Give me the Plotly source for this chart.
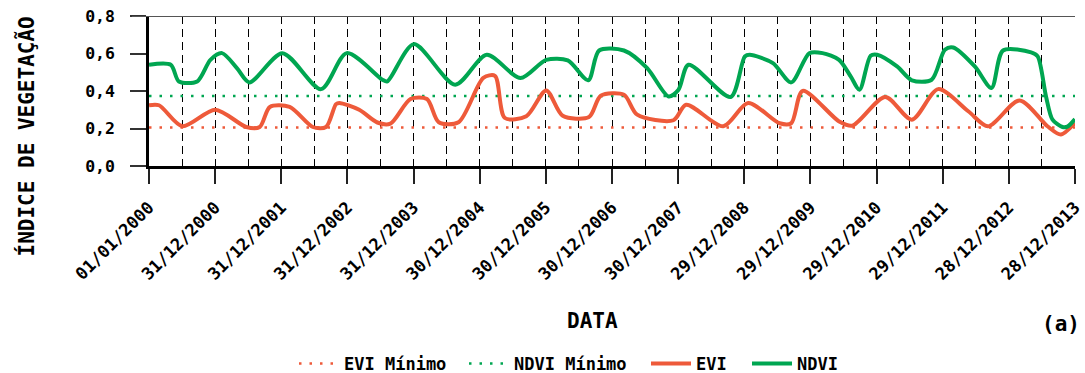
import plotly.graph_objects as go
import pandas as pd

# ---------------- data ----------------
NDVI_DATES = [
    "2000-01-01", "2000-04-30", "2000-06-14", "2000-09-23", "2000-12-05",
    "2001-02-07", "2001-04-30", "2001-07-08", "2002-01-06", "2002-08-08",
    "2002-12-27", "2003-07-12", "2003-08-08", "2004-01-01", "2004-08-17",
    "2005-02-07", "2005-08-12", "2006-01-01", "2006-04-30", "2006-08-21",
    "2006-10-20", "2007-03-06", "2007-07-12", "2007-11-07", "2008-01-01",
    "2008-02-25", "2008-10-15", "2009-01-01", "2009-01-28", "2009-06-05",
    "2009-09-14", "2009-12-23", "2010-03-06", "2010-06-05", "2010-08-08",
    "2010-09-26", "2010-11-26", "2011-01-01", "2011-04-21", "2011-07-12",
    "2011-10-29", "2012-01-10", "2012-02-25", "2012-06-23", "2012-09-23",
    "2012-11-26", "2013-04-30", "2013-06-05", "2013-07-21", "2013-08-26",
    "2013-10-20", "2013-11-16", "2013-12-28",
]
NDVI = [
    0.54, 0.54, 0.451, 0.451, 0.566,
    0.602, 0.522, 0.446, 0.602, 0.41,
    0.602, 0.46, 0.451, 0.65, 0.434,
    0.593, 0.469, 0.566, 0.563, 0.457,
    0.616, 0.616, 0.522, 0.371, 0.407,
    0.54, 0.368, 0.584, 0.593, 0.549,
    0.446, 0.602, 0.602, 0.566, 0.478,
    0.407, 0.588, 0.593, 0.531, 0.457,
    0.46, 0.62, 0.632, 0.531, 0.416,
    0.616, 0.606, 0.585, 0.371, 0.247,
    0.208, 0.21, 0.25,
]

EVI_DATES = [
    "2000-01-01", "2000-02-25", "2000-07-03", "2001-01-01", "2001-06-21",
    "2001-09-03", "2001-10-29", "2002-02-15", "2002-06-23", "2002-09-04",
    "2002-10-29", "2002-11-16", "2003-03-06", "2003-06-14", "2003-08-25",
    "2003-12-14", "2004-03-14", "2004-05-18", "2004-09-04", "2005-01-19",
    "2005-03-24", "2005-05-18", "2005-09-13", "2006-01-01", "2006-04-02",
    "2006-08-25", "2006-10-29", "2007-03-06", "2007-05-18", "2007-12-04",
    "2008-02-12", "2008-09-04", "2009-01-19", "2009-07-12", "2009-09-14",
    "2009-11-16", "2010-06-05", "2010-08-17", "2011-02-15", "2011-07-12",
    "2011-12-04", "2012-05-18", "2012-09-04", "2013-02-25", "2013-07-29",
    "2013-10-11", "2013-12-28",
]
EVI = [
    0.324, 0.324, 0.212, 0.30, 0.208,
    0.208, 0.315, 0.315, 0.208, 0.208,
    0.33, 0.336, 0.30, 0.232, 0.226,
    0.357, 0.357, 0.233, 0.233, 0.47,
    0.481, 0.256, 0.265, 0.403, 0.268,
    0.261, 0.375, 0.38, 0.274, 0.244,
    0.327, 0.212, 0.336, 0.228, 0.228,
    0.401, 0.238, 0.215, 0.368, 0.247,
    0.41, 0.292, 0.212, 0.35, 0.212,
    0.168, 0.23,
]

EVI_MIN = 0.205
NDVI_MIN = 0.373

TICK_DATES = [
    "2000-01-01", "2000-12-31", "2001-12-31", "2002-12-31", "2003-12-31",
    "2004-12-30", "2005-12-30", "2006-12-30", "2007-12-30", "2008-12-29",
    "2009-12-29", "2010-12-29", "2011-12-29", "2012-12-28", "2013-12-28",
]
TICK_LABELS = [
    "01/01/2000", "31/12/2000", "31/12/2001", "31/12/2002", "31/12/2003",
    "30/12/2004", "30/12/2005", "30/12/2006", "30/12/2007", "29/12/2008",
    "29/12/2009", "29/12/2010", "29/12/2011", "28/12/2012", "28/12/2013",
]

# half-year grid positions (midpoints between labelled ticks)
_t = pd.to_datetime(TICK_DATES)
MID_DATES = [(_t[i] + (_t[i + 1] - _t[i]) / 2).strftime("%Y-%m-%d %H:%M") for i in range(len(_t) - 1)]

RED = "#EE5A3A"
GREEN = "#00A651"
FONT = "DejaVu Sans Mono"
LEG_FONT = dict(family=FONT, size=17, color="black", weight="bold")

L, R, T, B = 149, 10, 16, 207
PW = 1085 - L - R
PH = 373 - T - B

fig = go.Figure()
fig.add_trace(go.Scatter(
    x=[TICK_DATES[0], TICK_DATES[-1]], y=[EVI_MIN, EVI_MIN], mode="lines",
    name="EVI Mínimo", legend="legend",
    line=dict(color=RED, width=2.5, dash="2.5px,8px")))
fig.add_trace(go.Scatter(
    x=[TICK_DATES[0], TICK_DATES[-1]], y=[NDVI_MIN, NDVI_MIN], mode="lines",
    name="NDVI Mínimo", legend="legend2",
    line=dict(color=GREEN, width=2.5, dash="2.5px,8px")))
fig.add_trace(go.Scatter(
    x=EVI_DATES, y=EVI, mode="lines", name="EVI", legend="legend3",
    line=dict(color=RED, width=4, shape="spline", smoothing=0.8)))
fig.add_trace(go.Scatter(
    x=NDVI_DATES, y=NDVI, mode="lines", name="NDVI", legend="legend4",
    line=dict(color=GREEN, width=4, shape="spline", smoothing=0.8)))


def px_x(px):
    return (px - L) / PW


def px_y(py):
    return (373 - B - py) / PH


def leg(px_left):
    return dict(orientation="h", x=px_x(px_left), xanchor="left",
                y=px_y(364), yanchor="middle", font=LEG_FONT, itemwidth=40,
                bgcolor="rgba(0,0,0,0)", borderwidth=0)


fig.update_layout(
    width=1085, height=373,
    margin=dict(l=L, r=R, t=T, b=B, autoexpand=False),
    paper_bgcolor="white", plot_bgcolor="white",
    separators=",.",
    font=dict(family=FONT, color="black", size=16),
    showlegend=True,
    legend=leg(294), legend2=leg(464), legend3=leg(646), legend4=leg(747),
    xaxis=dict(
        type="date", automargin=False,
        range=[TICK_DATES[0], TICK_DATES[-1]],
        tickmode="array", tickvals=TICK_DATES, ticktext=TICK_LABELS,
        tickangle=-45, ticklabeloverflow="allow",
        tickfont=dict(family=FONT, size=17, color="black", weight="bold"),
        ticks="outside", ticklen=15, tickwidth=1.5, tickcolor="#222",
        ticklabelstandoff=7,
        showline=True, linecolor="black", linewidth=2.5,
        showgrid=True, gridcolor="black", gridwidth=1.3, griddash="8px,5px",
        minor=dict(tickmode="array", tickvals=MID_DATES, showgrid=True,
                   gridcolor="black", gridwidth=1.3, griddash="8px,5px", ticks=""),
        zeroline=False,
    ),
    yaxis=dict(
        automargin=False,
        range=[0, 0.8], tickmode="array", tickvals=[0, 0.2, 0.4, 0.6, 0.8],
        tickformat=".1f",
        tickfont=dict(family=FONT, size=16.5, color="black", weight="bold"),
        ticks="outside", ticklen=16, tickwidth=1.5, tickcolor="#333",
        ticklabelstandoff=12,
        showline=True, linecolor="black", linewidth=2.5,
        showgrid=False, zeroline=False,
    ),
    annotations=[
        dict(text="DATA", xref="paper", yref="paper", x=px_x(592), y=px_y(321),
             xanchor="center", yanchor="middle", showarrow=False,
             font=dict(family=FONT, size=21, color="black", weight="bold")),
        dict(text="(a)", xref="paper", yref="paper", x=px_x(1082), y=px_y(324),
             xanchor="right", yanchor="middle", showarrow=False,
             font=dict(family=FONT, size=21, color="black", weight="bold")),
        dict(text="ÍNDICE DE VEGETAÇÃO", xref="paper", yref="paper", x=px_x(26), y=px_y(136.5),
             xanchor="center", yanchor="middle", showarrow=False, textangle=-90,
             font=dict(family=FONT, size=21, color="black", weight="bold")),
    ],
    shapes=[
        dict(type="line", xref="paper", yref="y", x0=px_x(132), x1=1.0, y0=0.8, y1=0.8,
             line=dict(color="#555", width=2)),
    ],
)

fig.write_html("out.html")
